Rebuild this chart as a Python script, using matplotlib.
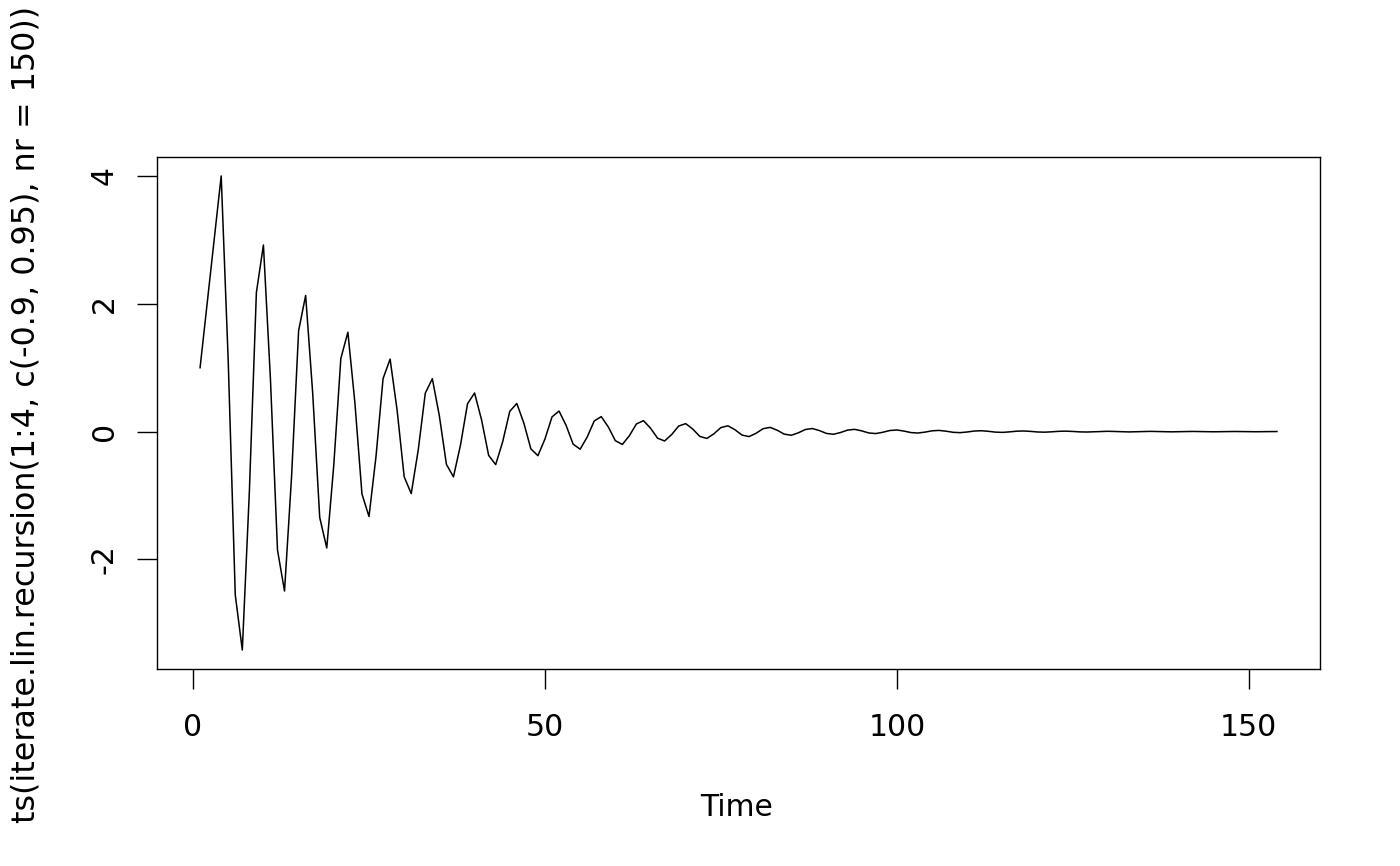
import matplotlib
matplotlib.use("Agg")
import matplotlib.pyplot as plt

values = [
    1, 2, 3, 4, 1.1, -2.555, -3.41725, -0.94689, 2.17598, 2.91938,
    0.81503, -1.85316, -2.49403, -0.70149, 1.57821, 2.13064, 0.60372, -1.34405, -1.82020, -0.51954,
    1.14462, 1.55498, 0.44707, -0.97476, -1.32838, -0.38468, 0.83009, 1.13480, 0.33098, -0.70689,
    -0.96943, -0.28476, 0.60197, 0.82815, 0.24497, -0.51262, -0.70746, -0.21073, 0.43652, 0.60435,
    0.18126, -0.37172, -0.51626, -0.15590, 0.31652, 0.44100, 0.13408, -0.26952, -0.37671, -0.11530,
    0.22950, 0.32180, 0.09916, -0.19542, -0.27489, -0.08527, 0.16639, 0.23481, 0.07332, -0.14168,
    -0.20059, -0.06305, 0.12063, 0.17135, 0.05421, -0.10272, -0.14637, -0.04660, 0.08746, 0.12503,
    0.04007, -0.07446, -0.10680, -0.03445, 0.06339, 0.09123, 0.02962, -0.05397, -0.07793, -0.02546,
    0.04595, 0.06656, 0.02187, -0.03912, -0.05684, -0.01879, 0.03331, 0.04855, 0.01614, -0.02837,
    -0.04148, -0.01388, 0.02414, 0.03542, 0.01192, -0.02056, -0.03026, -0.01025, 0.01749, 0.02585,
    0.00882, -0.01489, -0.02209, -0.00759, 0.01267, 0.01887, 0.00653, -0.01078, -0.01612, -0.00561,
    0.00918, 0.01377, 0.00482, -0.00781, -0.01176, -0.00414, 0.00665, 0.01005, 0.00356, -0.00567,
    -0.00859, -0.00306, 0.00482, 0.00733, 0.00262, -0.00411, -0.00626, -0.00225, 0.00349, 0.00535,
    0.00194, -0.00298, -0.00458, -0.00167, 0.00253, 0.00390, 0.00143, -0.00215, -0.00333, -0.00122,
    0.00184, 0.00285, 0.00105, -0.00157, -0.00244, -0.00091, 0.00134, 0.00209, 0.00078, -0.00114,
    -0.00178, -0.00066, 0.00097, 0.00151,
]
time = list(range(1, len(values) + 1))
xticks = [0, 50, 100, 150]
yticks = [-2, 0, 2, 4]
xlabel = "Time"
ylabel = "ts(iterate.lin.recursion(1:4, c(-0.9, 0.95), nr = 150))"

fig = plt.figure(figsize=(14, 8.66), dpi=100)
ax = fig.add_axes([157/1400, 1-669/866, (1320-157)/1400, (669-157)/866])
ax.plot(time, values, color="black", linewidth=1.1)

xmin, xmax = min(time), max(time)
ymin, ymax = min(values), max(values)
dx = (xmax - xmin) * 0.04
dy = (ymax - ymin) * 0.04
ax.set_xlim(xmin - dx, xmax + dx)
ax.set_ylim(ymin - dy, ymax + dy)

ax.set_xticks(xticks)
ax.set_yticks(yticks)
ax.set_yticklabels([str(v) for v in yticks], rotation=90, va="center")
ax.tick_params(axis="both", direction="out", length=14.4, width=1.0, labelsize=21.5)
ax.tick_params(axis="x", pad=17)
ax.tick_params(axis="y", pad=13)
for s in ax.spines.values():
    s.set_linewidth(1.0)

fig.text(737/1400, 1-816/866, xlabel, ha="center", va="baseline", fontsize=21.5)
fig.text(35/1400, 1-414.5/866, ylabel, ha="center", va="baseline", rotation=90,
         rotation_mode="anchor", fontsize=22.9)

fig.savefig("out.png", dpi=100)
